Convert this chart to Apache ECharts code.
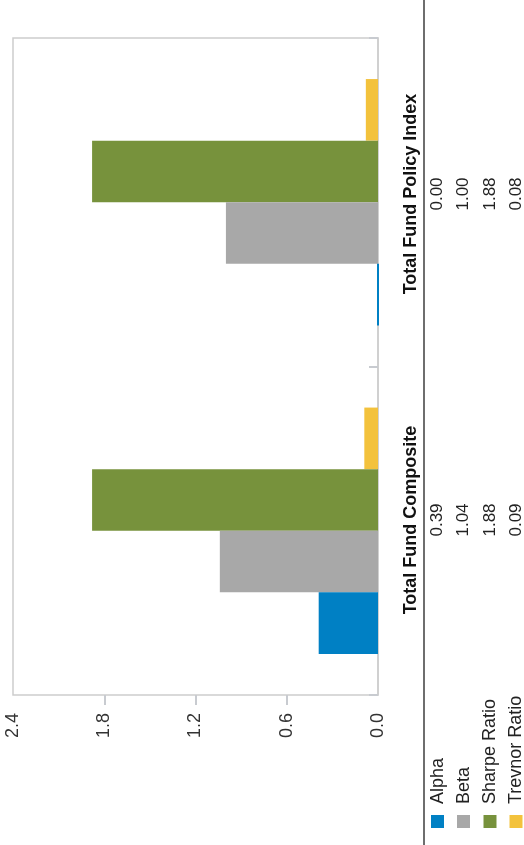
<!DOCTYPE html>
<html><head><meta charset="utf-8">
<script src="https://cdn.jsdelivr.net/npm/echarts@6/dist/echarts.min.js"></script>
<style>html,body{margin:0;padding:0;background:#fff;} #c{width:524px;height:845px;}</style>
</head><body><div id="c"></div>
<script>
const categories = ['Total Fund Composite', 'Total Fund Policy Index'];
const seriesNames = ['Alpha', 'Beta', 'Sharpe Ratio', 'Trevnor Ratio'];
const alpha = [0.39, 0.00];
const beta = [1.04, 1.00];
const sharpe = [1.88, 1.88];
const trevnor = [0.09, 0.08];
const valueTicks = [0, 0.6, 1.2, 1.8, 2.4];

const seriesData = [alpha, beta, sharpe, trevnor];
const colors = ['#0080c4', '#a8a8a8', '#77923c', '#f3c23c'];
const FONT = '"Liberation Sans", Arial, sans-serif';

// layout of the rotated data table / legend
const colX = [437.5, 463.5, 490, 516];
const catY = [520, 194];
const catLabelX = 411;
const legendTextY = 804;
const legendBoxY = 815;

const graphics = [];
graphics.push({type:'line', shape:{x1:424, y1:0, x2:424, y2:845}, style:{stroke:'#6e6e6e', lineWidth:2}, silent:true});
categories.forEach((c, i) => {
  graphics.push({type:'text', x:catLabelX, y:catY[i], rotation:Math.PI/2,
    style:{text:c, font:'bold 18px ' + FONT, fill:'#111', align:'center', verticalAlign:'middle'}});
  seriesData.forEach((arr, j) => {
    graphics.push({type:'text', x:colX[j], y:catY[i], rotation:Math.PI/2,
      style:{text:arr[i].toFixed(2), font:'17px ' + FONT, fill:'#222', align:'center', verticalAlign:'middle'}});
  });
});
seriesNames.forEach((n, j) => {
  graphics.push({type:'rect', shape:{x:colX[j]-6.5, y:legendBoxY, width:13, height:13}, style:{fill:colors[j]}});
  graphics.push({type:'text', x:colX[j]+0.5, y:legendTextY, rotation:Math.PI/2,
    style:{text:n, font:'18px ' + FONT, fill:'#222', align:'left', verticalAlign:'middle'}});
});

// ECharts lays horizontal bars top-to-bottom in series order; reference has Alpha at the bottom
const order = seriesNames.map((n, j) => j).reverse();

const chart = echarts.init(document.getElementById('c'));
chart.setOption({
  animation:false,
  grid:{left:13, right:146, top:38, bottom:150, show:true, borderColor:'#cdcdcd', borderWidth:1.5},
  xAxis:{type:'value', inverse:true, min:valueTicks[0], max:valueTicks[valueTicks.length-1], interval:0.6,
    axisLine:{show:false}, splitLine:{show:false},
    axisTick:{show:true, length:10, lineStyle:{color:'#c8cbd0', width:2}, customValues:valueTicks.slice(1, -1)},
    axisLabel:{rotate:90, margin:18, fontSize:18, color:'#333', fontFamily:FONT, customValues:valueTicks,
      formatter:v => v.toFixed(1)}},
  yAxis:{type:'category', data:categories, position:'right',
    axisLine:{show:true, lineStyle:{color:'#cdcdcd', width:1.5}},
    axisTick:{show:true, inside:true, length:9, lineStyle:{color:'#c8cbd0', width:2}},
    axisLabel:{show:false}},
  series: order.map(j => ({
    name:seriesNames[j], type:'bar', data:seriesData[j], barGap:'0%', barCategoryGap:'25%',
    itemStyle:{color:colors[j], borderColor:colors[j], borderWidth:j === 0 ? 2 : 0}
  })),
  graphic: graphics
});
</script></body></html>
